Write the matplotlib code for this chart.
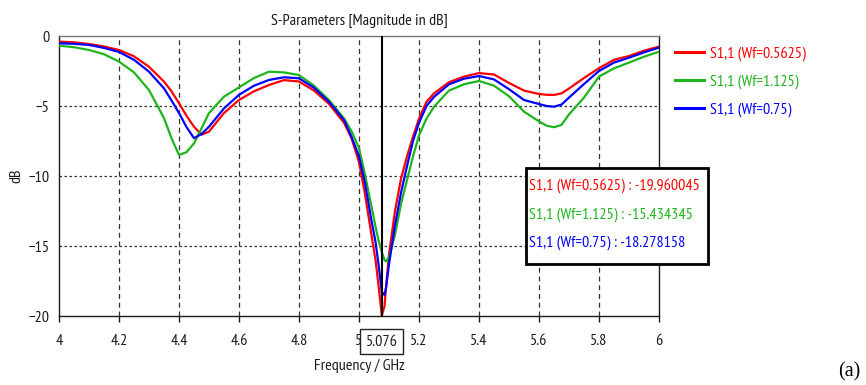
import matplotlib.pyplot as plt

plt.rcParams['font.family'] = ['PT Sans Narrow', 'DejaVu Sans']

freq = [4.0, 4.05, 4.1, 4.15, 4.2, 4.25, 4.3, 4.35, 4.375, 4.4, 4.425, 4.45, 4.475, 4.5,
        4.55, 4.6, 4.65, 4.7, 4.75, 4.8, 4.85, 4.9, 4.95, 4.975, 5.0, 5.02, 5.04, 5.055,
        5.065, 5.076, 5.085, 5.09, 5.1, 5.12, 5.14, 5.16, 5.18, 5.2, 5.225, 5.25, 5.3,
        5.35, 5.4, 5.45, 5.5, 5.55, 5.6, 5.625, 5.65, 5.675, 5.7, 5.75, 5.8, 5.85, 5.9,
        5.95, 6.0]

s11_wf_05625 = [-0.40, -0.45, -0.57, -0.75, -1.00, -1.45, -2.20, -3.26, -3.95, -4.80, -5.70,
                -6.48, -7.05, -6.83, -5.50, -4.57, -3.95, -3.50, -3.15, -3.25, -3.90, -4.85,
                -6.20, -7.30, -9.00, -11.30, -14.00, -16.00, -17.80, -19.96, -19.30, -18.00,
                -15.60, -12.50, -10.20, -8.60, -7.20, -5.90, -4.70, -4.10, -3.30, -2.90, -2.65,
                -2.75, -3.35, -3.90, -4.14, -4.20, -4.21, -4.10, -3.75, -3.00, -2.30, -1.70,
                -1.43, -1.05, -0.76]

s11_wf_1125 = [-0.69, -0.80, -1.00, -1.30, -1.83, -2.60, -3.86, -5.87, -7.30, -8.50, -8.30,
               -7.67, -6.60, -5.50, -4.33, -3.67, -3.00, -2.55, -2.60, -2.79, -3.55, -4.57,
               -5.88, -6.80, -8.00, -9.90, -12.00, -13.60, -14.60, -15.43, -16.00, -16.10,
               -15.80, -14.20, -12.00, -10.30, -8.60, -7.10, -5.90, -5.05, -3.90, -3.45, -3.21,
               -3.55, -4.30, -5.40, -6.10, -6.40, -6.52, -6.35, -5.60, -4.40, -2.90, -2.31,
               -1.90, -1.48, -1.12]

s11_wf_075 = [-0.52, -0.56, -0.64, -0.85, -1.14, -1.70, -2.55, -3.74, -4.60, -5.50, -6.50,
              -7.30, -7.00, -6.48, -5.17, -4.20, -3.55, -3.14, -2.95, -3.02, -3.70, -4.70,
              -6.00, -7.20, -8.60, -10.50, -13.00, -14.70, -16.30, -18.28, -18.50, -18.00,
              -16.30, -13.50, -11.20, -9.30, -7.50, -6.20, -5.00, -4.35, -3.45, -3.05, -2.86,
              -3.10, -3.80, -4.57, -4.86, -5.00, -5.05, -4.90, -4.40, -3.43, -2.50, -1.90,
              -1.55, -1.17, -0.83]

series = [
    ('S1,1 (Wf=0.5625)', s11_wf_05625, '#ff0000'),
    ('S1,1 (Wf=1.125)', s11_wf_1125, '#1eb41e'),
    ('S1,1 (Wf=0.75)', s11_wf_075, '#0000ff'),
]

marker_f = 5.076
marker_vals = [-19.960045, -15.434345, -18.278158]

xticks = [4, 4.2, 4.4, 4.6, 4.8, 5, 5.2, 5.4, 5.6, 5.8, 6]
xticklabels = ['4', '4.2', '4.4', '4.6', '4.8', '5', '5.2', '5.4', '5.6', '5.8', '6']
yticks = [0, -5, -10, -15, -20]

fs = 11.5
ink = '#1a1a1a'

fig = plt.figure(figsize=(8.66, 3.85), dpi=100)
ax = fig.add_axes([59 / 866, 1 - 316 / 385, 600 / 866, 280 / 385])

ax.set_xlim(4, 6)
ax.set_ylim(-20, 0)
ax.set_xticks(xticks)
ax.set_xticklabels(xticklabels)
ax.set_yticks(yticks)
ax.tick_params(axis='x', direction='out', length=4, width=1, pad=9, labelsize=fs, colors=ink)
ax.tick_params(axis='y', length=0, pad=7, labelsize=fs, colors=ink)

for x in xticks[1:-1]:
    ax.axvline(x, color='#333333', lw=0.9, ls=(0, (4, 3)), zorder=1)
for y in yticks[1:-1]:
    ax.axhline(y, color='#333333', lw=0.9, ls=(0, (2, 2)), zorder=1)

for s in ax.spines.values():
    s.set_color(ink)
    s.set_linewidth(1)
ax.spines['top'].set_color('#777777')

for label, vals, col in series:
    ax.plot(freq, vals, color=col, lw=1.6, label=label, zorder=3)

# marker line at the resonance
ax.axvline(marker_f, color='black', lw=1.5, zorder=4)

ax.set_title('S-Parameters [Magnitude in dB]', fontsize=fs, pad=8, color=ink)
ax.set_ylabel('dB', fontsize=fs, color=ink)
ax.yaxis.set_label_coords(-36 / 600, 0.5)
ax.set_xlabel('Frequency / GHz', fontsize=fs, color=ink)
ax.xaxis.set_label_coords(0.5, -43 / 280)

# frequency readout of the marker, boxed on the x axis
ax.annotate(f'{marker_f:.3f}', xy=(marker_f, 0), xycoords=('data', 'axes fraction'),
            xytext=(0, -18.5), textcoords='offset points', ha='center', va='center',
            fontsize=fs, color=ink, zorder=5,
            bbox=dict(boxstyle='square,pad=0.35', fc='white', ec='#222222', lw=1))

leg = ax.legend(loc='upper left', bbox_to_anchor=(1 + 16 / 600, 1 - 10.5 / 280), frameon=False,
                fontsize=fs, handlelength=1.8, handletextpad=0.4, labelspacing=0.83,
                borderaxespad=0, borderpad=0)
for txt, (_, _, col) in zip(leg.get_texts(), series):
    txt.set_color(col)
for line in leg.get_lines():
    line.set_linewidth(2.2)

lines = [f'{label} : {v:.6f}' for (label, _, _), v in zip(series, marker_vals)]
box_x0, box_y0 = 5.555, -16.3
ax.add_patch(plt.Rectangle((box_x0, box_y0), 0.607, 6.85, transform=ax.transData,
                           fc='white', ec='black', lw=2, clip_on=False, zorder=6))
for i, (txt, (_, _, col)) in enumerate(zip(lines, series)):
    ax.text(box_x0 + 0.012, -10.7 - 2.05 * i, txt, color=col, fontsize=fs,
            ha='left', va='center', zorder=7, clip_on=False)

fig.text(849 / 866, 1 - 372 / 385, '(a)', family='Liberation Serif', fontsize=14.5,
         ha='center', va='center')

fig.savefig('out.png', dpi=100)
